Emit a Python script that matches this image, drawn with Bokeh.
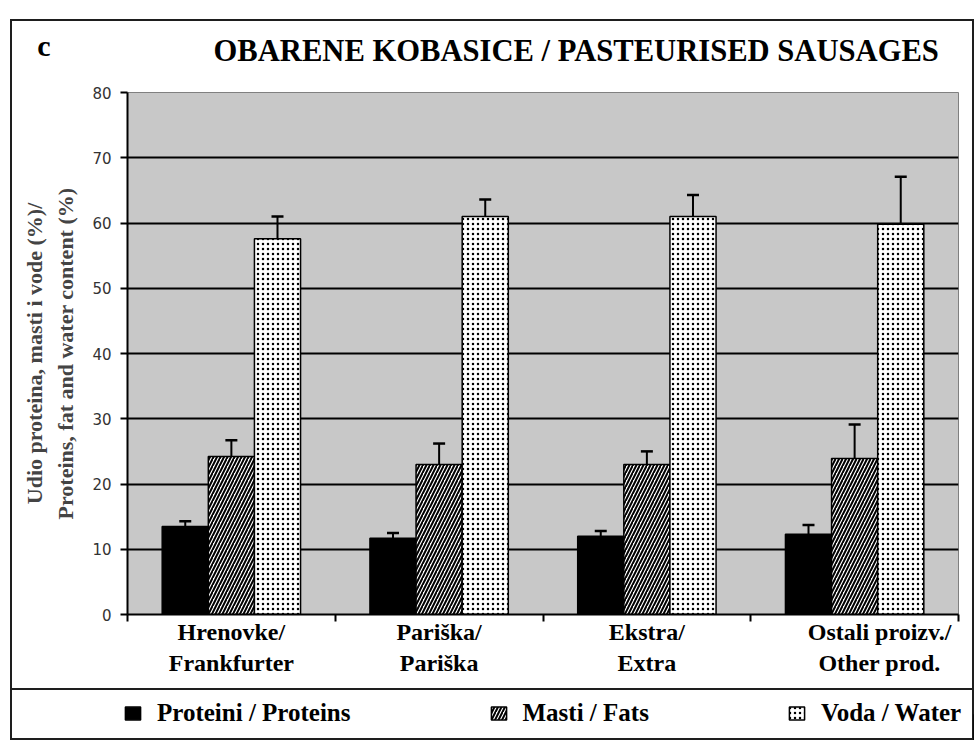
from bokeh.plotting import figure
from bokeh.models import (Range1d, FixedTicker, ColumnDataSource, Whisker, TeeHead,
                          Legend, LegendItem, Spacer)
from bokeh.core.properties import value
from bokeh.layouts import column, row
from bokeh.embed import file_html
from bokeh.resources import INLINE
import numpy as np

# ---------------- data ----------------
panel_letter = "c"
chart_title = "OBARENE KOBASICE / PASTEURISED SAUSAGES"
categories = ["Hrenovke/\nFrankfurter", "Pariška/\nPariška", "Ekstra/\nExtra",
              "Ostali proizv./\nOther prod."]
series_names = ["Proteini / Proteins", "Masti / Fats", "Voda / Water"]
protein = [13.5, 11.7, 12.0, 12.3]
protein_sd = [0.8, 0.8, 0.8, 1.4]
fat = [24.2, 23.0, 23.0, 23.9]
fat_sd = [2.5, 3.2, 2.0, 5.2]
water = [57.6, 61.0, 61.0, 59.8]
water_sd = [3.4, 2.6, 3.3, 7.3]
y_ticks = [0, 10, 20, 30, 40, 50, 60, 70, 80]
y_label = "Udio proteina, masti i vode (%)/\nProteins, fat and water content (%)"

SERIF = "Liberation Serif"
FRAME = "#1e1e1e"
W = 964
BL, BR = 117, 16          # left / right borders (frame 831 px wide)
FW = W - BL - BR

n = len(categories)
centers = np.arange(n) + 0.5
bar_w = 0.222
label_shift = [0.0, 0.0, 0.0, 0.12]
label_pos = [float(round(c + s, 3)) for c, s in zip(centers, label_shift)]

# ---------------- header (panel letter + title) ----------------
HH = 62
ht = figure(width=W, height=HH, x_range=Range1d(0, FW), y_range=Range1d(0, HH),
            output_backend="svg", toolbar_location=None, title_location=None,
            x_axis_location=None, y_axis_location="left",
            min_border_left=BL, min_border_right=BR, min_border_top=0, min_border_bottom=0,
            border_fill_color=None, background_fill_color=None, outline_line_color=None)
ht.styles = {"box-shadow": f"inset 0 2px 0 {FRAME}, inset 2px 0 0 {FRAME}, inset -2px 0 0 {FRAME}"}
ht.grid.visible = False
ht.yaxis.ticker = FixedTicker(ticks=[36])
ht.yaxis.major_label_overrides = {36: panel_letter}
ht.yaxis.axis_line_color = None
ht.yaxis.major_tick_line_color = None
ht.yaxis.minor_tick_line_color = None
ht.yaxis.major_tick_in = 0
ht.yaxis.major_tick_out = 0
ht.yaxis.major_label_standoff = 77
ht.yaxis.major_label_text_font = SERIF
ht.yaxis.major_label_text_font_style = "bold"
ht.yaxis.major_label_text_font_size = "30px"
ht.yaxis.major_label_text_color = "black"
ht.text(x=[86], y=[31], text=[chart_title], text_font=value(SERIF), text_font_style="bold",
        text_font_size="30.6px", text_color="black", text_baseline="alphabetic",
        text_align="left")

# ---------------- main plot ----------------
PH = 607
p = figure(width=W, height=PH, x_range=Range1d(0, n), y_range=Range1d(0, 80),
           output_backend="svg", toolbar_location=None, title_location=None,
           min_border_left=BL, min_border_right=BR, min_border_top=11, min_border_bottom=74,
           background_fill_color="#c8c8c8", border_fill_color=None,
           outline_line_color="#808080", outline_line_width=1)
p.styles = {"box-shadow": f"inset 2px 0 0 {FRAME}, inset -2px 0 0 {FRAME}"}

p.xgrid.visible = False
p.ygrid.ticker = FixedTicker(ticks=y_ticks)
p.ygrid.grid_line_color = "black"
p.ygrid.grid_line_width = 2

p.yaxis.ticker = FixedTicker(ticks=y_ticks)
p.yaxis.axis_line_color = "black"
p.yaxis.axis_line_width = 2
p.yaxis.major_tick_in = 0
p.yaxis.major_tick_out = 7
p.yaxis.major_tick_line_width = 2
p.yaxis.minor_tick_line_color = None
p.yaxis.major_label_text_font = "DejaVu Sans"
p.yaxis.major_label_text_font_size = "15px"
p.yaxis.major_label_text_color = "#333333"
p.yaxis.major_label_standoff = 9
p.yaxis.axis_label = y_label
p.yaxis.axis_label_text_font = SERIF
p.yaxis.axis_label_text_font_style = "bold"
p.yaxis.axis_label_text_font_size = "22px"
p.yaxis.axis_label_text_line_height = 1.25
p.yaxis.axis_label_standoff = 11

p.xaxis.ticker = FixedTicker(ticks=label_pos, minor_ticks=list(range(n + 1)))
p.xaxis.major_label_overrides = {pos: lab for pos, lab in zip(label_pos, categories)}
p.xaxis.axis_line_color = "black"
p.xaxis.axis_line_width = 2
p.xaxis.major_tick_in = 0
p.xaxis.major_tick_out = 0
p.xaxis.minor_tick_in = 0
p.xaxis.minor_tick_out = 7
p.xaxis.minor_tick_line_color = "black"
p.xaxis.minor_tick_line_width = 2
p.xaxis.major_label_text_font = SERIF
p.xaxis.major_label_text_font_style = "bold"
p.xaxis.major_label_text_font_size = "24px"
p.xaxis.major_label_text_color = "black"
p.xaxis.major_label_standoff = -3

styles = [
    dict(fill_color="black"),
    dict(fill_color="white", hatch_pattern="/", hatch_color="black", hatch_scale=7, hatch_weight=2),
    dict(fill_color="white", hatch_pattern=".", hatch_color="black", hatch_scale=5, hatch_weight=1),
]
values = [protein, fat, water]
sds = [protein_sd, fat_sd, water_sd]
offsets = [-bar_w, 0.0, bar_w]
for vals, sd, off, st in zip(values, sds, offsets, styles):
    src = ColumnDataSource(dict(x=centers + off, top=vals,
                                upper=[v + s for v, s in zip(vals, sd)]))
    p.vbar(x="x", top="top", bottom=0, width=bar_w, source=src,
           line_color="black", line_width=1.5, **st)
    p.add_layout(Whisker(source=src, base="x", lower="top", upper="upper", dimension="height",
                         line_color="black", line_width=2, lower_head=None,
                         upper_head=TeeHead(size=12, line_color="black", line_width=2.5)))

# ---------------- legend strip ----------------
lg = figure(width=W, height=52, x_range=Range1d(0, 1), y_range=Range1d(0, 1),
            output_backend="svg", toolbar_location=None, title_location=None,
            x_axis_location=None, y_axis_location=None,
            min_border_left=0, min_border_right=0, min_border_top=0, min_border_bottom=0,
            border_fill_color=None, background_fill_color=None, outline_line_color=None)
lg.styles = {"box-shadow": f"inset 0 0 0 2px {FRAME}"}
lg.grid.visible = False
items = []
for name, st in zip(series_names, styles):
    r = lg.vbar(x=[5], top=[0.5], width=0.1, line_color="black", line_width=1.5, **st)
    items.append(LegendItem(label=name, renderers=[r]))
legend = Legend(items=items, orientation="horizontal", location=(113, 13),
                spacing=138, label_standoff=15, glyph_width=19, glyph_height=16,
                padding=0, margin=0, border_line_color=None, background_fill_alpha=0,
                label_text_font=SERIF, label_text_font_style="bold",
                label_text_font_size="25px", label_text_color="black")
lg.add_layout(legend, "center")

layout = column(Spacer(width=W + 10, height=19),
                row(Spacer(width=10, height=HH + PH), column(ht, p, spacing=0), spacing=0),
                row(Spacer(width=10, height=52), lg, spacing=0),
                spacing=0)

open("out.html", "w").write(file_html(layout, INLINE))
